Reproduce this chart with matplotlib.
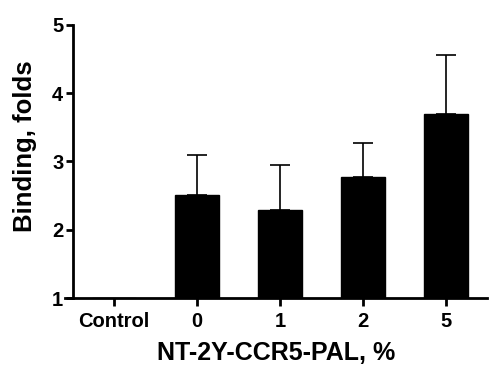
import matplotlib
matplotlib.use("Agg")
import matplotlib.pyplot as plt

categories = ["Control", "0", "1", "2", "5"]
means = [1.0, 2.51, 2.29, 2.77, 3.69]
sd_upper = [0.0, 0.59, 0.66, 0.50, 0.87]

plt.rcParams['font.family'] = ['Liberation Sans', 'DejaVu Sans']
plt.rcParams['font.weight'] = 'bold'

fig = plt.figure(figsize=(5, 3.77), dpi=100)
ax = fig.add_axes([0.13, 0.2095, 0.844, 0.7245])

x = list(range(len(categories)))
heights = [m - 1 for m in means]
ax.bar(x, heights, bottom=1, width=0.53, color='black', edgecolor='black', zorder=2)
ax.errorbar(x[1:], means[1:], yerr=[[0] * 4, sd_upper[1:]], fmt='none',
            ecolor='black', elinewidth=1.2, capsize=7, capthick=1.2, zorder=1)

ax.set_xlim(-0.59, 4.49)
ax.set_ylim(1, 5)
ax.set_yticks([1, 2, 3, 4, 5])
ax.set_xticks(x)
ax.set_xticklabels(categories)

ax.spines['top'].set_visible(False)
ax.spines['right'].set_visible(False)
ax.spines['left'].set_position(('data', -0.494))
ax.spines['left'].set_linewidth(2)
ax.spines['bottom'].set_linewidth(2)
ax.tick_params(axis='both', width=2, labelsize=14.5)
ax.tick_params(axis='y', length=5, pad=2)
ax.tick_params(axis='x', length=6, pad=4)

ax.set_ylabel("Binding, folds", fontsize=18.5, fontweight='bold')
ax.set_xlabel("NT-2Y-CCR5-PAL, %", fontsize=18, fontweight='bold')
ax.yaxis.set_label_coords(-0.095, 0.557)
ax.xaxis.set_label_coords(0.5, -0.2)
ax.xaxis.label.set_va('center')
ax.yaxis.label.set_va('center')

fig.savefig("out.png", dpi=100)
